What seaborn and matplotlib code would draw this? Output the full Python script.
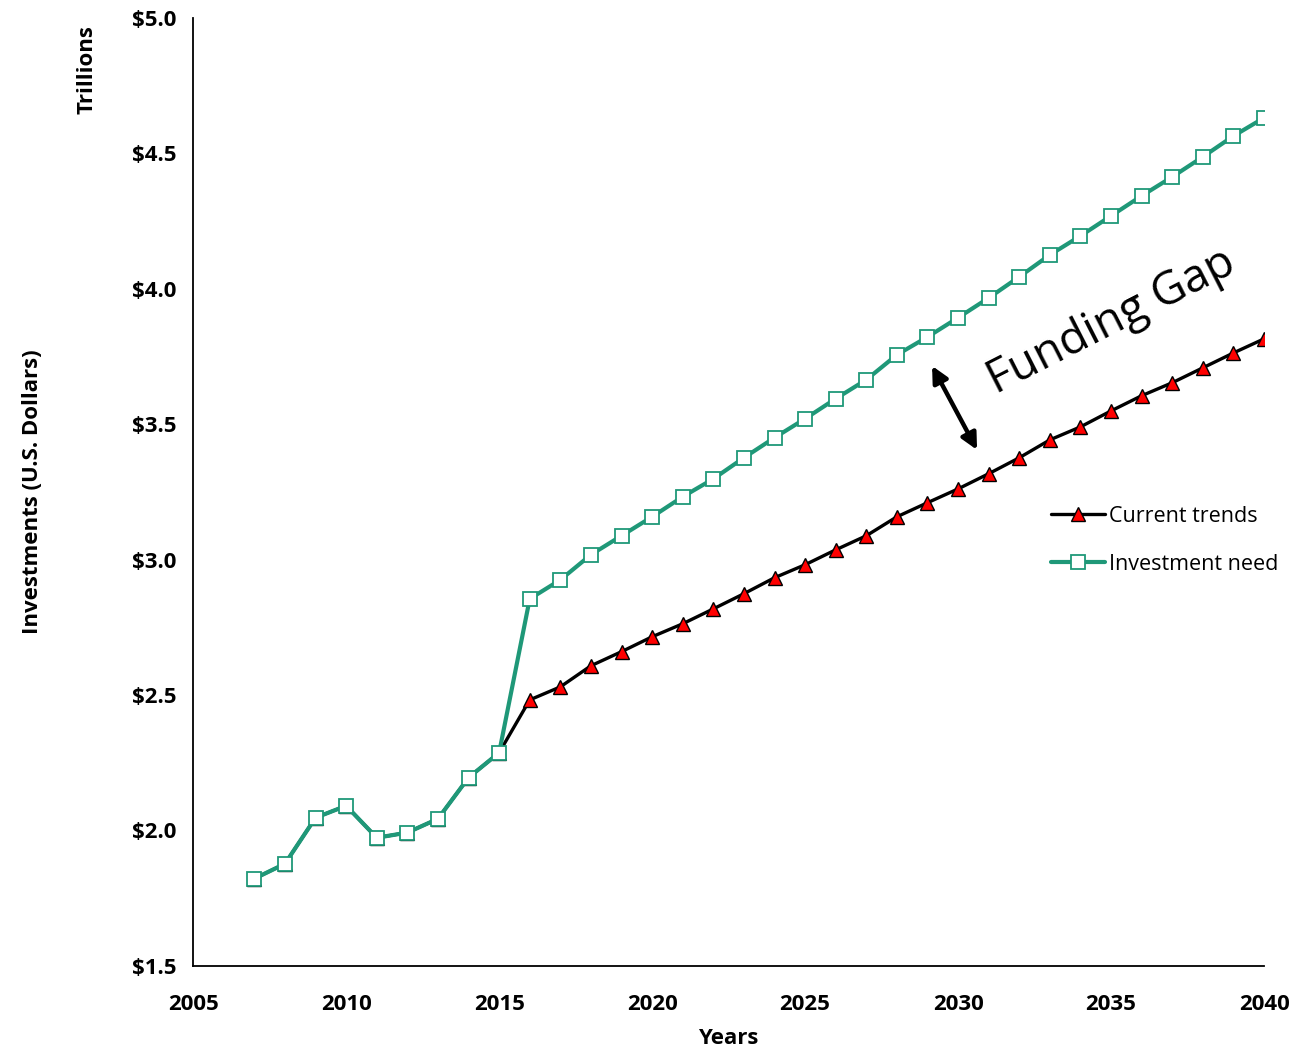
import pandas as pd
import matplotlib.pyplot as plt
import seaborn as sns
from matplotlib.ticker import FuncFormatter

# data (trillions of US dollars)
years = list(range(2007, 2041))
investment_need = [1.822, 1.877, 2.047, 2.091, 1.973, 1.992, 2.043, 2.195, 2.287,
                   2.855, 2.925, 3.018, 3.088, 3.158, 3.232, 3.298, 3.376, 3.450,
                   3.520, 3.594, 3.664, 3.756, 3.822, 3.893, 3.966, 4.044, 4.125,
                   4.195, 4.269, 4.343, 4.413, 4.487, 4.564, 4.631]
current_trends = [1.822, 1.877, 2.047, 2.091, 1.973, 1.992, 2.043, 2.195, 2.287,
                  2.482, 2.530, 2.608, 2.660, 2.715, 2.763, 2.818, 2.874, 2.933,
                  2.981, 3.036, 3.088, 3.158, 3.210, 3.261, 3.317, 3.376, 3.442,
                  3.490, 3.549, 3.605, 3.653, 3.708, 3.763, 3.815]

df = pd.DataFrame({'Year': years,
                   'Current trends': current_trends,
                   'Investment need': investment_need})

sns.set_style('white')
plt.rcParams['font.family'] = ['Open Sans', 'DejaVu Sans']
plt.rcParams['text.color'] = 'black'
plt.rcParams['axes.labelcolor'] = 'black'
plt.rcParams['xtick.color'] = 'black'
plt.rcParams['ytick.color'] = 'black'

green = '#1f9878'

fig = plt.figure(figsize=(13.14, 10.51), dpi=100)
ax = fig.add_axes([0.147, 0.081, 0.815, 0.902])

sns.lineplot(data=df, x='Year', y='Current trends', ax=ax, color='black',
             linewidth=2.4, marker='^', markersize=10.5, markerfacecolor='red',
             markeredgecolor='black', markeredgewidth=1.0, label='Current trends')
sns.lineplot(data=df, x='Year', y='Investment need', ax=ax, color=green,
             linewidth=3.0, marker='s', markersize=10.5, markerfacecolor='white',
             markeredgecolor=green, markeredgewidth=1.3, label='Investment need')

ax.set_xlim(2005, 2040)
ax.set_ylim(1.5, 5.0)
ax.set_xticks(range(2005, 2041, 5))
ax.set_yticks([1.5, 2.0, 2.5, 3.0, 3.5, 4.0, 4.5, 5.0])
ax.yaxis.set_major_formatter(FuncFormatter(lambda v, p: '${:.1f}'.format(v)))
ax.tick_params(axis='y', length=0, labelsize=16, pad=12)
ax.tick_params(axis='x', length=0, labelsize=16, pad=20)
for lab in ax.get_xticklabels() + ax.get_yticklabels():
    lab.set_fontweight('bold')

for s in ['top', 'right']:
    ax.spines[s].set_visible(False)
for s in ['left', 'bottom']:
    ax.spines[s].set_color('black')
    ax.spines[s].set_linewidth(1.3)

ax.set_xlabel('Years', fontsize=16, fontweight='bold')
ax.xaxis.set_label_coords(0.5, -0.066)
ax.set_ylabel('Investments (U.S. Dollars)', fontsize=16, fontweight='bold')
ax.yaxis.set_label_coords(-0.14, 0.5)
fig.text(0.066, 0.934, 'Trillions', rotation=90, ha='center', va='center',
         fontsize=16, fontweight='bold')

ax.legend(loc='center left', bbox_to_anchor=(0.793, 0.449), frameon=False,
          fontsize=15.5, handlelength=2.5, handletextpad=0.2, labelspacing=1.25,
          borderaxespad=0)

ax.text(2035.0, 3.88, 'Funding Gap', rotation=27, ha='center', va='center',
        fontsize=33)
ax.annotate('', xy=(2029.15, 3.715), xytext=(2030.62, 3.405),
            arrowprops=dict(arrowstyle='<|-|>', color='black', lw=3.2,
                            mutation_scale=24, shrinkA=0, shrinkB=0))

plt.savefig('out.png', dpi=100)
